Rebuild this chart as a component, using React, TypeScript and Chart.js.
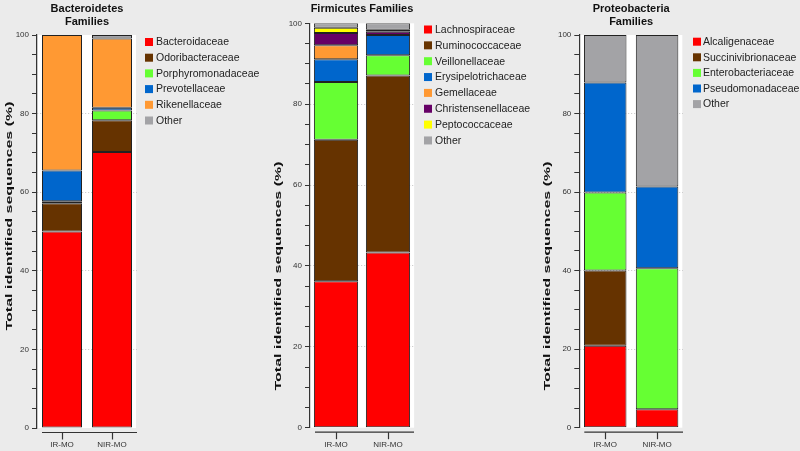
import React, { useEffect, useRef } from 'react';
import { Chart, registerables } from 'chart.js';

Chart.register(...registerables);

const FONT = "'Liberation Sans', Arial, Helvetica, sans-serif";

const groups = ['IR-MO', 'NIR-MO'];
const yMajorTicks = [0, 20, 40, 60, 80, 100];

// Bacteroidetes families (% of identified sequences)
const bacteroidaceae = [50.0, 70.2];
const odoribacteraceae = [7.2, 8.1];
const porphyromonadaceae = [0.5, 2.5];
const prevotellaceae = [7.8, 0.7];
const rikenellaceae = [34.5, 17.6];
const bacteroidetesOther = [0, 0.9];

// Firmicutes families
const lachnospiraceae = [36.2, 43.3];
const ruminococcaceae = [35.0, 43.8];
const veillonellaceae = [14.3, 5.0];
const erysipelotrichaceae = [5.6, 5.0];
const gemellaceae = [3.5, 0];
const christensenellaceae = [3.0, 0.8];
const peptococcaceae = [1.3, 0.5];
const firmicutesOther = [1.1, 1.6];

// Proteobacteria families
const alcaligenaceae = [20.9, 4.7];
const succinivibrionaceae = [19.1, 0];
const enterobacteriaceae = [19.9, 35.9];
const pseudomonadaceae = [28.0, 20.8];
const proteobacteriaOther = [12.1, 38.6];

const RED = '#ff0000';
const BROWN = '#663300';
const GREEN = '#66ff33';
const BLUE = '#0066cc';
const ORANGE = '#ff9933';
const GRAY = '#a3a3a6';
const PURPLE = '#660066';
const YELLOW = '#ffff00';

type Series = { label: string; data: number[]; color: string };

type PanelProps = {
  left: number;
  width: number;
  title: string[];
  series: Series[];
  yAxisWidth: number;
  padTop: number;
  padRight: number;
  xHeight: number;
  barPct: number;
  yTitleX: number;
  yTitleY: number;
  legendBoxX: number;
  legendTextX: number;
  legendY: number;
  legendStep: number;
};

const H = 451;

function Panel(p: PanelProps) {
  const ref = useRef<HTMLCanvasElement | null>(null);

  useEffect(() => {
    if (!ref.current) return;

    const decor = {
      id: 'decor',
      beforeDraw(chart: any) {
        const { ctx, chartArea } = chart;
        const bars = chart.getDatasetMeta(0).data as any[];
        if (!bars.length) return;
        const first = bars[0];
        const last = bars[bars.length - 1];
        const l = first.x - first.width / 2 - 4;
        const r = last.x + last.width / 2 + 4;
        ctx.save();
        ctx.fillStyle = '#ffffff';
        ctx.fillRect(l, chartArea.top, r - l, chartArea.bottom - chartArea.top);
        ctx.restore();
      },
      afterDraw(chart: any) {
        const { ctx, chartArea, scales } = chart;
        const y0 = scales.y.getPixelForValue(0) + 4.5;
        ctx.save();
        // x axis line (offset below the plot)
        ctx.strokeStyle = '#333';
        ctx.lineWidth = 1.2;
        ctx.beginPath();
        ctx.moveTo(chartArea.left + 5, y0);
        ctx.lineTo(chartArea.right, y0);
        ctx.stroke();
        groups.forEach((_, i) => {
          const x = Math.round(scales.x.getPixelForValue(i)) + 0.5;
          ctx.beginPath();
          ctx.moveTo(x, y0);
          ctx.lineTo(x, y0 + 7);
          ctx.stroke();
        });
        // legend
        ctx.textAlign = 'left';
        ctx.textBaseline = 'middle';
        ctx.font = `10.5px ${FONT}`;
        p.series.forEach((s, i) => {
          const y = p.legendY + i * p.legendStep;
          ctx.fillStyle = s.color;
          ctx.fillRect(p.legendBoxX, y - 4, 8, 8);
          ctx.fillStyle = '#222';
          ctx.fillText(s.label, p.legendTextX, y + 0.5);
        });
        // panel title
        ctx.fillStyle = '#111';
        ctx.font = `bold 11px ${FONT}`;
        ctx.textAlign = 'center';
        ctx.textBaseline = 'middle';
        const cx = (chartArea.left + chartArea.right) / 2;
        p.title.forEach((t, i) => ctx.fillText(t, cx, 9 + i * 13));
        // y axis title (narrow, rotated)
        ctx.translate(p.yTitleX, p.yTitleY);
        ctx.rotate(-Math.PI / 2);
        ctx.scale(1, 0.62);
        ctx.font = `bold 16px ${FONT}`;
        ctx.fillText('Total identified sequences (%)', 0, 0);
        ctx.restore();
      },
    };

    const chart = new Chart(ref.current, {
      type: 'bar',
      data: {
        labels: groups,
        datasets: p.series.map((s) => ({
          label: s.label,
          data: s.data,
          backgroundColor: s.color,
          borderColor: '#222222',
          borderWidth: 1,
          borderSkipped: false,
          barPercentage: p.barPct,
          categoryPercentage: 1,
        })),
      },
      options: {
        responsive: false,
        animation: false,
        layout: { padding: { top: p.padTop, left: 0, right: p.padRight, bottom: 0 } },
        plugins: {
          title: { display: false },
          tooltip: { enabled: false },
          legend: { display: false },
        },
        scales: {
          x: {
            stacked: true,
            grid: { display: false, drawTicks: false },
            border: { display: false },
            ticks: { padding: 12, color: '#333', font: { size: 8, family: FONT } },
            afterFit: (s: any) => {
              s.height = p.xHeight;
            },
          },
          y: {
            stacked: true,
            min: 0,
            max: 100,
            ticks: {
              stepSize: 5,
              autoSkip: false,
              padding: 3,
              color: '#333',
              font: { size: 8, family: FONT },
              callback: (v: any) => (yMajorTicks.includes(Number(v)) ? String(v) : ''),
            },
            grid: {
              color: (c: any) =>
                c.tick && yMajorTicks.includes(c.tick.value) && c.tick.value > 0 && c.tick.value < 100
                  ? '#c4c4c4'
                  : 'rgba(0,0,0,0)',
              lineWidth: 1,
              drawTicks: true,
              tickLength: 5,
              tickColor: '#333',
              tickWidth: 1,
            },
            border: { display: true, color: '#333', width: 1.2, dash: [1, 2] },
            afterFit: (s: any) => {
              s.width = p.yAxisWidth;
            },
          },
        },
      },
      plugins: [decor],
    } as any);

    return () => chart.destroy();
  }, []);

  return (
    <canvas
      ref={ref}
      width={p.width}
      height={H}
      style={{ position: 'absolute', left: p.left, top: 0, width: p.width, height: H }}
    />
  );
}

const bacteroidetesSeries: Series[] = [
  { label: 'Bacteroidaceae', data: bacteroidaceae, color: RED },
  { label: 'Odoribacteraceae', data: odoribacteraceae, color: BROWN },
  { label: 'Porphyromonadaceae', data: porphyromonadaceae, color: GREEN },
  { label: 'Prevotellaceae', data: prevotellaceae, color: BLUE },
  { label: 'Rikenellaceae', data: rikenellaceae, color: ORANGE },
  { label: 'Other', data: bacteroidetesOther, color: GRAY },
];

const firmicutesSeries: Series[] = [
  { label: 'Lachnospiraceae', data: lachnospiraceae, color: RED },
  { label: 'Ruminococcaceae', data: ruminococcaceae, color: BROWN },
  { label: 'Veillonellaceae', data: veillonellaceae, color: GREEN },
  { label: 'Erysipelotrichaceae', data: erysipelotrichaceae, color: BLUE },
  { label: 'Gemellaceae', data: gemellaceae, color: ORANGE },
  { label: 'Christensenellaceae', data: christensenellaceae, color: PURPLE },
  { label: 'Peptococcaceae', data: peptococcaceae, color: YELLOW },
  { label: 'Other', data: firmicutesOther, color: GRAY },
];

const proteobacteriaSeries: Series[] = [
  { label: 'Alcaligenaceae', data: alcaligenaceae, color: RED },
  { label: 'Succinivibrionaceae', data: succinivibrionaceae, color: BROWN },
  { label: 'Enterobacteriaceae', data: enterobacteriaceae, color: GREEN },
  { label: 'Pseudomonadaceae', data: pseudomonadaceae, color: BLUE },
  { label: 'Other', data: proteobacteriaOther, color: GRAY },
];

export default function App() {
  return (
    <div
      style={{
        position: 'fixed',
        left: 0,
        top: 0,
        width: 800,
        height: H,
        overflow: 'hidden',
        background: '#ebebeb',
      }}
    >
      <Panel
        left={0}
        width={268}
        title={['Bacteroidetes', 'Families']}
        series={bacteroidetesSeries}
        yAxisWidth={37}
        padTop={35}
        padRight={131}
        xHeight={23}
        barPct={0.8}
        yTitleX={9}
        yTitleY={216}
        legendBoxX={145}
        legendTextX={156}
        legendY={42}
        legendStep={15.7}
      />
      <Panel
        left={268}
        width={268}
        title={['Firmicutes Families']}
        series={firmicutesSeries}
        yAxisWidth={42}
        padTop={23.3}
        padRight={122}
        xHeight={23.3}
        barPct={0.85}
        yTitleX={10}
        yTitleY={276}
        legendBoxX={156}
        legendTextX={167}
        legendY={29.5}
        legendStep={15.85}
      />
      <Panel
        left={536}
        width={264}
        title={['Proteobacteria', 'Families']}
        series={proteobacteriaSeries}
        yAxisWidth={43.3}
        padTop={35}
        padRight={117}
        xHeight={23.3}
        barPct={0.82}
        yTitleX={11}
        yTitleY={276}
        legendBoxX={157}
        legendTextX={167}
        legendY={41.7}
        legendStep={15.6}
      />
    </div>
  );
}
